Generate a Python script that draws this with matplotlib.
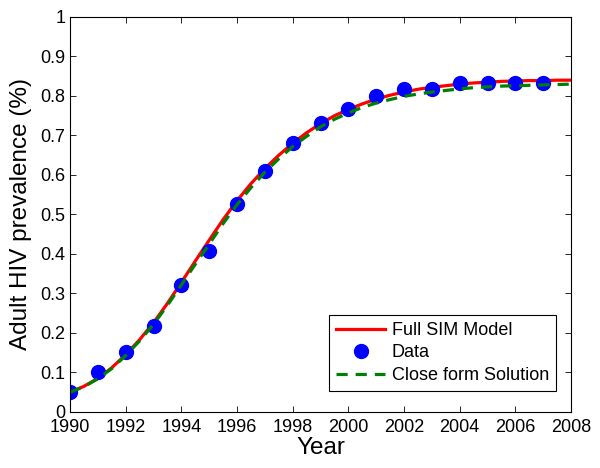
import numpy as np
import matplotlib
matplotlib.use("Agg")
import matplotlib.pyplot as plt

plt.rcParams['font.family'] = ['Liberation Sans', 'DejaVu Sans']

# observed data
data_years = list(range(1990, 2008))
data_vals = [0.05, 0.10, 0.151, 0.218, 0.321, 0.407, 0.527, 0.611, 0.680,
             0.731, 0.766, 0.799, 0.817, 0.817, 0.834, 0.834, 0.834, 0.834]

# model curves (half-year steps)
model_years = [1990 + 0.5 * i for i in range(37)]
sim_vals = [0.050, 0.065, 0.085, 0.112, 0.145, 0.183, 0.226, 0.275, 0.328,
            0.382, 0.435, 0.487, 0.535, 0.578, 0.616, 0.650, 0.680, 0.707,
            0.730, 0.750, 0.766, 0.780, 0.792, 0.802, 0.810, 0.817, 0.822,
            0.826, 0.830, 0.833, 0.835, 0.837, 0.838, 0.839, 0.839, 0.840, 0.840]
close_vals = [0.050, 0.064, 0.084, 0.110, 0.143, 0.180, 0.222, 0.270, 0.322,
              0.374, 0.425, 0.477, 0.525, 0.568, 0.607, 0.641, 0.672, 0.698,
              0.722, 0.741, 0.757, 0.771, 0.782, 0.791, 0.799, 0.805, 0.810,
              0.814, 0.818, 0.821, 0.823, 0.825, 0.826, 0.827, 0.828, 0.829, 0.830]

fig = plt.figure(figsize=(6, 4.68), dpi=100)
ax = fig.add_axes([0.1167, 0.1197, 0.835, 0.844])

ax.plot(model_years, sim_vals, color='red', lw=2.3, label='Full SIM Model')
ax.plot(data_years, data_vals, 'o', color='blue', ms=10, label='Data')
ax.plot(model_years, close_vals, '--', color='green', lw=2.3, dashes=(3.5, 2.5),
        label='Close form Solution')

ax.set_xlim(1990, 2008)
ax.set_ylim(0, 1)
ax.set_xticks(np.arange(1990, 2009, 2))
ax.set_yticks(np.arange(0, 1.01, 0.1))
ax.set_yticklabels(['0', '0.1', '0.2', '0.3', '0.4', '0.5', '0.6', '0.7', '0.8', '0.9', '1'])
ax.tick_params(direction='in', top=True, right=True, labelsize=13, length=4, width=0.6)
ax.tick_params(axis='x', pad=5)
for s in ax.spines.values():
    s.set_linewidth(0.8)

ax.set_xlabel('Year', fontsize=17.5, labelpad=1)
ax.set_ylabel('Adult HIV prevalence (%)', fontsize=17.5, labelpad=6)

leg = ax.legend(loc='lower right', bbox_to_anchor=(0.970, 0.053), borderaxespad=0,
                fancybox=False, edgecolor='black', framealpha=1, fontsize=13,
                handlelength=2.7, handletextpad=0.35, labelspacing=0.3, borderpad=0.4)
leg.get_frame().set_linewidth(0.8)

fig.savefig('out.png', dpi=100)
